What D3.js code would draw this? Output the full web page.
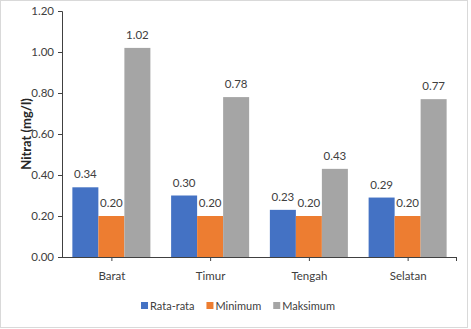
<!DOCTYPE html>
<html>
<head>
<meta charset="utf-8">
<script src="https://cdn.jsdelivr.net/npm/d3@7"></script>
<style>
  html, body { margin: 0; padding: 0; background: #fff; }
  svg { display: block; font-family: Lato, "Open Sans", sans-serif; }
</style>
</head>
<body>
<svg id="chart" width="471" height="329"></svg>
<script>
// Nitrate concentration per area
const categories = ["Barat", "Timur", "Tengah", "Selatan"];
const seriesNames = ["Rata-rata", "Minimum", "Maksimum"];
const rataRata = [0.34, 0.30, 0.23, 0.29];
const minimum = [0.20, 0.20, 0.20, 0.20];
const maksimum = [1.02, 0.78, 0.43, 0.77];
const yTicks = [0, 0.2, 0.4, 0.6, 0.8, 1.0, 1.2];
const colors = ["#4472C4", "#ED7D31", "#A5A5A5"];

const seriesValues = [rataRata, minimum, maksimum];

const svg = d3.select("#chart");
const W = 471, H = 329;
const m = { left: 62, right: 14, top: 11, bottom: 72 };
const fs = 11.5;

// outer frame
svg.append("rect")
  .attr("x", 0.5).attr("y", 0.5)
  .attr("width", W - 4).attr("height", H - 2)
  .attr("fill", "#fff").attr("stroke", "#d9d9d9");

const x0 = d3.scaleBand().domain(categories)
  .range([m.left, W - m.right]).paddingInner(0.21).paddingOuter(0.105);
const x1 = d3.scaleBand().domain(seriesNames)
  .range([0, x0.bandwidth()]);
const y = d3.scaleLinear().domain([0, 1.2]).range([H - m.bottom, m.top]);

// bars
const groups = svg.append("g").selectAll("g")
  .data(categories).join("g")
  .attr("transform", d => `translate(${x0(d)},0)`);

groups.selectAll("rect")
  .data((c, i) => seriesNames.map((s, k) => ({ s, k, v: seriesValues[k][i] })))
  .join("rect")
  .attr("x", d => x1(d.s))
  .attr("y", d => y(d.v))
  .attr("width", x1.bandwidth())
  .attr("height", d => y(0) - y(d.v))
  .attr("fill", d => colors[d.k]);

groups.selectAll("text")
  .data((c, i) => seriesNames.map((s, k) => ({ s, k, v: seriesValues[k][i] })))
  .join("text")
  .attr("x", d => x1(d.s) + x1.bandwidth() / 2)
  .attr("y", d => y(d.v) - 9)
  .attr("text-anchor", "middle")
  .attr("font-size", fs)
  .attr("fill", "#404040")
  .text(d => d3.format(".2f")(d.v));

// y axis
const yAxis = svg.append("g")
  .attr("transform", `translate(${m.left},0)`)
  .call(d3.axisLeft(y).tickValues(yTicks).tickFormat(d3.format(".2f")).tickSize(4).tickPadding(4));
yAxis.select(".domain").attr("stroke", "#404040");
yAxis.selectAll(".tick line").attr("stroke", "#404040");
yAxis.selectAll(".tick text").attr("font-size", fs).attr("fill", "#404040")
  .attr("font-family", "Lato, sans-serif");

// x axis with ticks at category centres
const xAxisScale = d3.scalePoint().domain(categories)
  .range([x0(categories[0]) + x0.bandwidth() / 2, x0(categories[3]) + x0.bandwidth() / 2]);
const xAxis = svg.append("g")
  .attr("transform", `translate(0,${y(0)})`)
  .call(d3.axisBottom(xAxisScale).tickSize(4).tickSizeOuter(0).tickPadding(11));
xAxis.select(".domain").remove();
xAxis.append("line")
  .attr("x1", m.left).attr("x2", W - m.right)
  .attr("y1", 0.5).attr("y2", 0.5)
  .attr("stroke", "#404040");
xAxis.append("line")
  .attr("x1", W - m.right - 0.5).attr("x2", W - m.right - 0.5)
  .attr("y1", 0).attr("y2", 4)
  .attr("stroke", "#404040");
xAxis.selectAll(".tick line").attr("stroke", "#404040");
xAxis.selectAll(".tick text").attr("font-size", fs).attr("fill", "#404040")
  .attr("font-family", "Lato, sans-serif");

// y-axis title
svg.append("text")
  .attr("transform", `translate(31,${(y(0) + y(1.2)) / 2}) rotate(-90)`)
  .attr("text-anchor", "middle")
  .attr("font-size", 13)
  .attr("font-weight", "bold")
  .attr("fill", "#262626")
  .text("Nitrat (mg/l)");

// legend: items laid out from their measured widths, centred under the plot
const legend = svg.append("g").attr("transform", "translate(0,306)");
const items = legend.selectAll("g").data(seriesNames).join("g");
items.append("rect")
  .attr("x", 0).attr("y", -4).attr("width", 7).attr("height", 7)
  .attr("fill", (d, i) => colors[i]);
items.append("text")
  .attr("x", 9).attr("y", 4)
  .attr("font-size", 11)
  .attr("fill", "#404040")
  .text(d => d);
const gap = 12;
let cx = 0;
const offsets = [];
items.each(function () {
  offsets.push(cx);
  cx += this.getBBox().width + gap;
});
const total = cx - gap;
const startX = 238 - total / 2;
items.attr("transform", (d, i) => `translate(${startX + offsets[i]},0)`);
</script>
</body>
</html>
